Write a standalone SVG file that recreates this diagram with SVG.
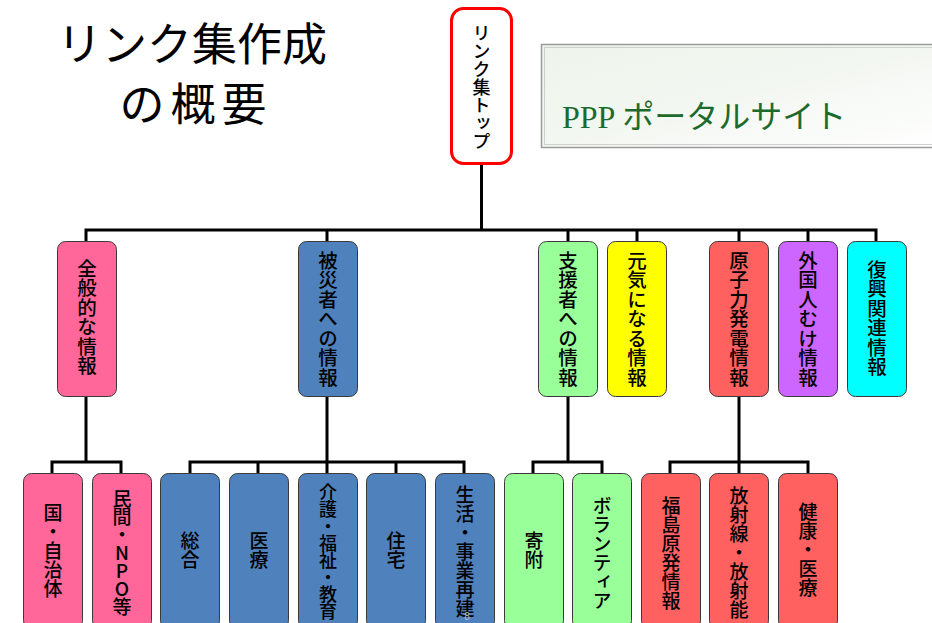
<svg xmlns="http://www.w3.org/2000/svg" width="932" height="623" viewBox="0 0 932 623">
<defs>
<style>
.title{font-family:"Noto Sans CJK JP","Noto Sans",sans-serif;font-size:45px;font-weight:400;fill:#000;text-anchor:middle}
.v{font-family:"Noto Sans CJK JP","Noto Sans",sans-serif;font-weight:500;writing-mode:vertical-rl;text-orientation:upright;text-anchor:middle;fill:#000}
.l2{font-size:19.5px}
.l3{font-size:19px}
.box{stroke:#3a3a3a;stroke-width:1}
.pink{fill:#FF6699}
.blue{fill:#4F81BD}
.green{fill:#99FF99}
.yellow{fill:#FFFF00}
.red{fill:#FF6060}
.purple{fill:#CC66FF}
.cyan{fill:#00FFFF}
.conn{fill:none;stroke:#000;stroke-width:3}
</style>
<linearGradient id="bannerGrad" x1="0" y1="0" x2="1" y2="1">
<stop offset="0" stop-color="#eef4ec"/>
<stop offset="0.5" stop-color="#f3f7f1"/>
<stop offset="1" stop-color="#ffffff"/>
</linearGradient>
</defs>
<rect width="932" height="623" fill="#ffffff"/>

<g id="title">
<text class="title" x="192" y="61">リンク集作成</text>
<text class="title" x="196" y="121" letter-spacing="6">の概要</text>
</g>

<g id="banner">
<rect x="541.5" y="44.5" width="400" height="103" fill="url(#bannerGrad)" stroke="#9a9a9a" stroke-width="1.5"/>
<rect x="544.5" y="47.5" width="400" height="97" fill="none" stroke="#cfcfcf" stroke-width="1"/>
<text x="562" y="128" font-family="'Liberation Serif','Noto Sans CJK JP',serif" font-size="32" fill="#1d6b2c">PPP ポータルサイト</text>
</g>

<g id="connectors">
<path class="conn" d="M481.5 164 V230 M84.5 230 H877.5 M86 230 V241 M327 230 V241 M568 230 V241 M637 230 V241 M739 230 V241 M808 230 V241 M876 230 V241"/>
<path class="conn" d="M86 396 V462 M50.5 462 H122.5 M52 462 V473 M121 462 V473"/>
<path class="conn" d="M327 396 V462 M188.5 462 H465.5 M190 462 V473 M258 462 V473 M327 462 V473 M396 462 V473 M464 462 V473"/>
<path class="conn" d="M568 396 V462 M531.5 462 H603.5 M533 462 V473 M602 462 V473"/>
<path class="conn" d="M739 396 V462 M668.5 462 H809.5 M670 462 V473 M739 462 V473 M808 462 V473"/>
</g>

<g id="n-top">
<rect x="451.5" y="8.5" width="60" height="155" rx="12" fill="#ffffff" stroke="#ff0000" stroke-width="3"/>
<text class="v" x="481.5" y="87" font-size="18" font-weight="400">リンク集トップ</text>
</g>

<g id="n-general">
<rect class="box pink" x="57.5" y="241.5" width="59" height="155" rx="8"/>
<text class="v l2" x="87" y="317">全般的な情報</text>
</g>
<g id="n-victims">
<rect class="box blue" x="298.5" y="241.5" width="59" height="155" rx="8"/>
<text class="v l2" x="328" y="319">被災者への情報</text>
</g>
<g id="n-supporters">
<rect class="box green" x="538.5" y="241.5" width="59" height="155" rx="8"/>
<text class="v l2" x="568" y="319">支援者への情報</text>
</g>
<g id="n-genki">
<rect class="box yellow" x="607.5" y="241.5" width="59" height="155" rx="8"/>
<text class="v l2" x="637" y="319">元気になる情報</text>
</g>
<g id="n-nuclear">
<rect class="box red" x="709.5" y="241.5" width="59" height="155" rx="8"/>
<text class="v l2" x="739" y="319">原子力発電情報</text>
</g>
<g id="n-foreign">
<rect class="box purple" x="778.5" y="241.5" width="59" height="155" rx="8"/>
<text class="v l2" x="808" y="319">外国人むけ情報</text>
</g>
<g id="n-recovery">
<rect class="box cyan" x="847.5" y="241.5" width="59" height="155" rx="8"/>
<text class="v l2" x="877" y="318">復興関連情報</text>
</g>

<g id="n-gov">
<rect class="box pink" x="23.5" y="473.5" width="59" height="155" rx="8"/>
<text class="v l3" x="53" y="551">国・自治体</text>
</g>
<g id="n-npo">
<rect class="box pink" x="92.5" y="473.5" width="59" height="155" rx="8"/>
<text class="v l3" x="122" y="552" letter-spacing="-1">民間・NPO等</text>
</g>
<g id="n-sogo">
<rect class="box blue" x="160.5" y="473.5" width="59" height="155" rx="8"/>
<text class="v l3" x="190" y="550">総合</text>
</g>
<g id="n-iryo">
<rect class="box blue" x="229.5" y="473.5" width="59" height="155" rx="8"/>
<text class="v l3" x="259" y="550">医療</text>
</g>
<g id="n-kaigo">
<rect class="box blue" x="298.5" y="473.5" width="59" height="155" rx="8"/>
<text class="v" x="328" y="551" font-size="18" letter-spacing="-1">介護・福祉・教育</text>
</g>
<g id="n-jutaku">
<rect class="box blue" x="366.5" y="473.5" width="59" height="155" rx="8"/>
<text class="v l3" x="396" y="550">住宅</text>
</g>
<g id="n-seikatsu">
<rect class="box blue" x="435.5" y="473.5" width="59" height="155" rx="8"/>
<text class="v l3" x="465" y="552">生活・事業再建</text>
</g>
<g id="n-kifu">
<rect class="box green" x="504.5" y="473.5" width="59" height="155" rx="8"/>
<text class="v l3" x="534" y="550">寄附</text>
</g>
<g id="n-volunteer">
<rect class="box green" x="572.5" y="473.5" width="59" height="155" rx="8"/>
<text class="v l3" x="602" y="553">ボランティア</text>
</g>
<g id="n-fukushima">
<rect class="box red" x="641.5" y="473.5" width="59" height="155" rx="8"/>
<text class="v l3" x="671" y="553">福島原発情報</text>
</g>
<g id="n-radiation">
<rect class="box red" x="709.5" y="473.5" width="59" height="155" rx="8"/>
<text class="v l3" x="739" y="553">放射線・放射能</text>
</g>
<g id="n-health">
<rect class="box red" x="778.5" y="473.5" width="59" height="155" rx="8"/>
<text class="v l3" x="808" y="550">健康・医療</text>
</g>

<text x="467" y="620" font-family="'Liberation Sans',sans-serif" font-size="10" fill="#b8b8c8" text-anchor="middle">8</text>
</svg>
